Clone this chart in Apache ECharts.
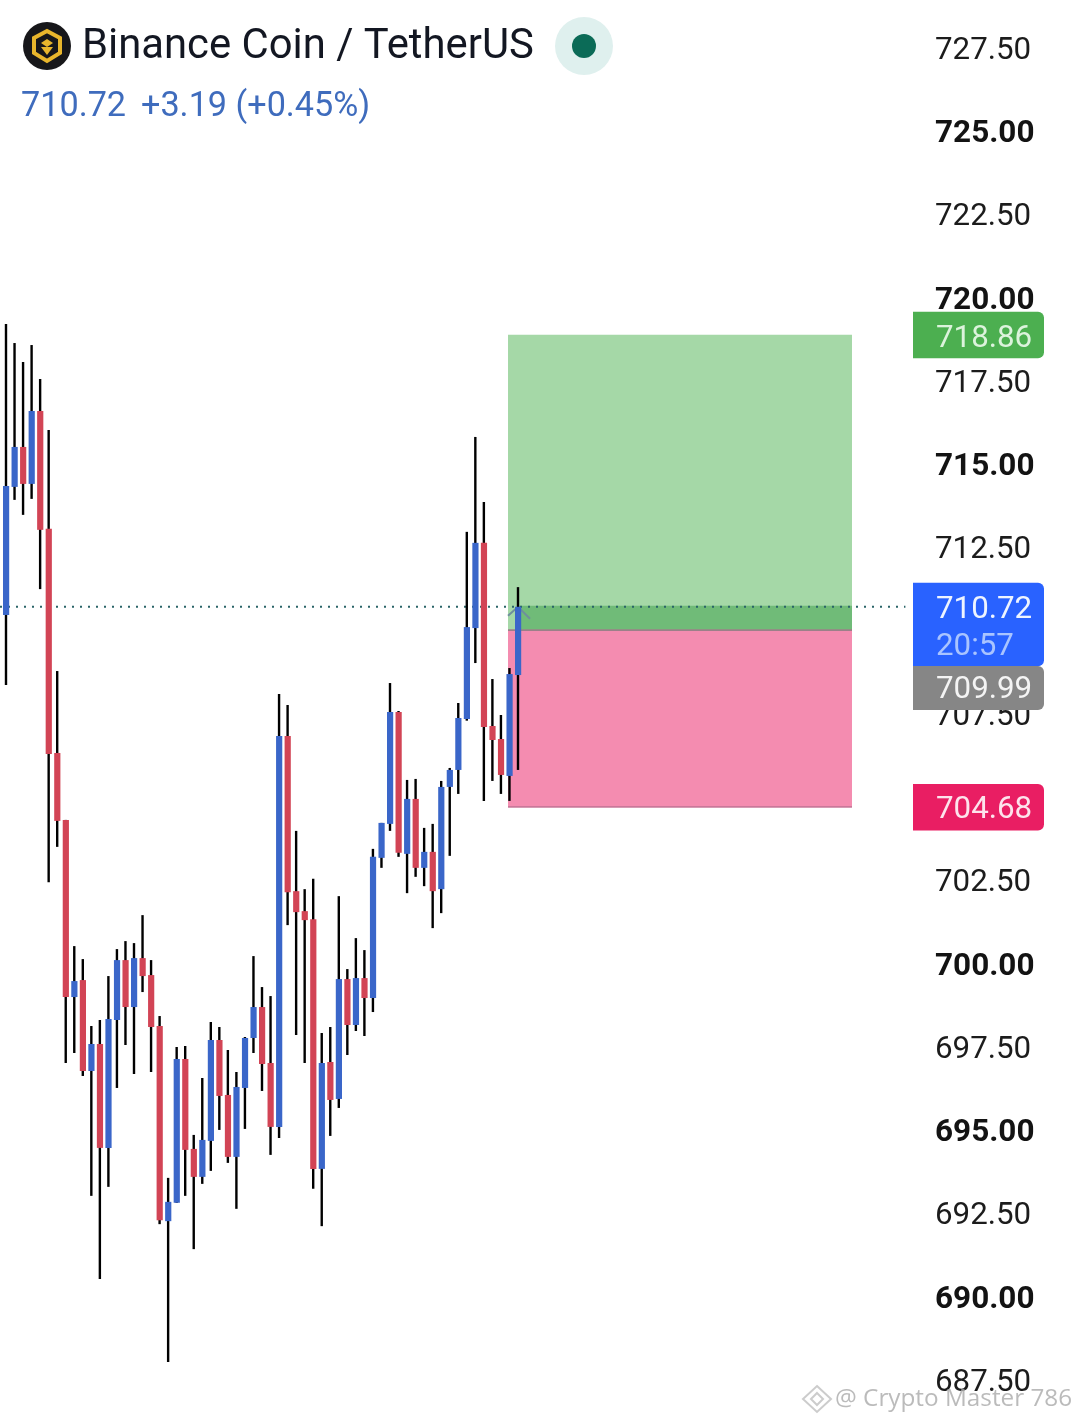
<!DOCTYPE html>
<html>
<head>
<meta charset="utf-8">
<style>html,body{margin:0;padding:0;background:#fff}#c{width:1079px;height:1423px}</style>
<script src="https://cdn.jsdelivr.net/npm/echarts@6/dist/echarts.min.js"></script>
</head>
<body>
<div id="c"></div>
<script>
const opens = [710.47,714.32,715.52,714.41,716.60,713.06,706.33,704.32,699.00,699.51,696.78,697.59,694.47,698.31,700.11,698.70,700.17,699.66,698.13,692.27,692.82,697.14,694.44,693.60,694.68,697.71,696.06,694.20,696.27,697.77,698.70,697.02,695.10,706.84,702.18,701.58,701.34,693.84,697.05,695.94,699.54,698.16,699.57,698.97,703.18,704.20,707.56,703.30,704.95,702.88,703.36,702.24,705.31,705.82,707.35,710.08,712.64,707.14,706.75,705.64,708.67];
const closes = [714.35,715.52,714.41,716.60,713.03,706.30,704.29,699.00,699.48,696.78,697.59,694.47,698.34,700.11,698.70,700.17,699.63,698.10,692.30,692.85,697.14,694.41,693.60,694.71,697.71,696.03,694.20,696.30,697.77,698.70,696.99,695.10,706.84,702.15,701.55,701.31,693.84,697.02,695.91,699.54,698.16,699.57,698.97,703.21,704.23,707.56,703.33,704.95,702.88,703.36,702.18,705.31,705.82,707.38,710.11,712.64,707.11,706.72,705.67,708.70,710.72];
const lows = [708.37,713.93,713.48,713.96,711.25,702.45,703.51,697.02,697.32,696.63,693.03,690.53,693.30,696.27,697.56,696.69,699.15,696.75,692.18,688.04,692.82,693.03,691.43,693.39,693.78,695.01,694.02,692.64,695.04,697.32,696.18,694.26,694.77,701.16,697.86,697.02,693.24,692.12,694.83,695.67,697.26,697.98,697.83,698.55,702.88,703.99,703.21,702.12,702.61,702.33,701.07,701.52,703.24,705.10,707.30,709.03,704.89,705.49,705.10,704.89,705.82];
const highs = [719.21,718.64,718.07,718.58,717.56,716.03,708.79,704.32,700.53,700.14,698.13,698.31,699.63,700.44,700.68,700.62,701.46,700.11,698.43,693.57,697.50,697.53,694.86,696.57,698.25,698.10,697.41,696.75,697.80,700.23,699.30,699.03,708.10,707.77,703.99,702.24,702.55,697.92,698.10,702.03,699.84,700.77,700.41,703.45,704.23,708.43,707.59,705.52,705.55,704.08,704.20,705.49,705.88,707.83,712.97,715.82,713.87,708.55,707.47,708.88,711.31];

const targetPrice = 718.86;
const lastPrice = 710.72;
const entryPrice = 709.99;
const stopPrice = 704.68;
const positionStartBar = 58.83;
const positionEndBar = 99.14;
const lastBar = 60;
const dottedEndBar = 105.4;
const tagPrices = [718.86, 710.72, 709.99, 704.68];
const tagTexts = ['718.86', '710.72', '709.99', '704.68'];
const countdownText = '20:57';
const titleText = 'Binance Coin / TetherUS';
const quoteText = '710.72';
const changeText = '+3.19 (+0.45%)';
const watermarkText = '@ Crypto Master 786';

const BLUE = '#3a66c9', RED = '#d24455', FONT = 'Roboto, "Noto Sans", sans-serif';
const candles = opens.map((o, i) => [i, o, closes[i], lows[i], highs[i]]);

function renderCandle(params, api) {
  const x = api.value(0), o = api.value(1), c = api.value(2), l = api.value(3), h = api.value(4);
  const pH = api.coord([x, h]), pL = api.coord([x, l]);
  const pT = api.coord([x, Math.max(o, c)]), pB = api.coord([x, Math.min(o, c)]);
  return {
    type: 'group',
    children: [
      { type: 'rect', shape: { x: pH[0] - 1.2, y: pH[1], width: 2.4, height: pL[1] - pH[1] }, style: { fill: '#000' } },
      { type: 'rect', shape: { x: pT[0] - 3, y: pT[1], width: 6.2, height: Math.max(1, pB[1] - pT[1]) },
        style: { fill: c > o ? BLUE : RED } }
    ]
  };
}

function renderZones(params, api) {
  const s = positionStartBar, e = positionEndBar, up = 1;
  const tl = api.coord([s, targetPrice]), br = api.coord([e, entryPrice]), sb = api.coord([e, stopPrice]);
  const lb = api.coord([lastBar, lastPrice]);
  const w = br[0] - tl[0];
  return {
    type: 'group',
    children: [
      { type: 'rect', shape: { x: tl[0], y: tl[1] - up, width: w, height: br[1] - tl[1] }, style: { fill: '#a5d8a7' } },
      { type: 'rect', shape: { x: lb[0], y: lb[1] - up, width: br[0] - lb[0], height: br[1] - lb[1] }, style: { fill: '#70bb78' } },
      { type: 'rect', shape: { x: tl[0], y: br[1] - up, width: w, height: sb[1] - br[1] }, style: { fill: '#f48cb0' } },
      { type: 'line', shape: { x1: tl[0], y1: br[1] - up, x2: br[0], y2: br[1] - up }, style: { stroke: '#9c8089', lineWidth: 1.6 } },
      { type: 'line', shape: { x1: tl[0], y1: sb[1] - up, x2: br[0], y2: sb[1] - up }, style: { stroke: '#c9789a', lineWidth: 1.6 } },
      { type: 'polyline', shape: { points: [[lb[0] - 10, lb[1] + 9], [lb[0], lb[1]], [lb[0] + 12, lb[1] + 12]] },
        style: { stroke: '#6f8f9c', lineWidth: 2, fill: 'none' } }
    ]
  };
}

function renderTag(params, api) {
  const i = params.dataIndex;
  const y = api.coord([0, api.value(1)])[1];
  const L = 913, W = 131;
  const font = '31.3px ' + FONT;
  const tx = 936;
  const text = (t, cy, fill) => ({ type: 'text', style: { text: t, x: tx, y: cy, fill, font, textAlign: 'left', textVerticalAlign: 'middle' } });
  if (i === 0) return { type: 'group', children: [
    { type: 'rect', shape: { x: L, y: y - 24, width: W, height: 46.5, r: [0, 6, 6, 0] }, style: { fill: '#4caf50' } },
    text(tagTexts[0], y + 3, '#dcf3dc')] };
  if (i === 1) return { type: 'group', children: [
    { type: 'rect', shape: { x: L, y: y - 24, width: W, height: 83.5, r: [0, 6, 6, 0] }, style: { fill: '#2962ff' } },
    text(tagTexts[1], y + 3, '#eef4ff'), text(countdownText, y + 40, '#a9c4ff')] };
  if (i === 2) return { type: 'group', children: [
    { type: 'rect', shape: { x: L, y: y + 35, width: W, height: 44, r: [0, 6, 6, 0] }, style: { fill: '#868686' } },
    text(tagTexts[2], y + 59.5, '#f4f4f4')] };
  return { type: 'group', children: [
    { type: 'rect', shape: { x: L, y: y - 24, width: W, height: 46.5, r: [0, 6, 6, 0] }, style: { fill: '#e91e63' } },
    text(tagTexts[3], y + 2, '#fde3ec')] };
}

const gold = '#e9b62c';
const iconX = 47, iconY = 46;
const option = {
  backgroundColor: '#fff',
  animation: false,
  grid: { left: 0, right: 159, top: 48, bottom: 43 },
  xAxis: { type: 'value', min: -0.703, max: 107.11, show: false },
  yAxis: {
    type: 'value', position: 'right', min: 687.5, max: 727.5, interval: 2.5,
    splitLine: { show: false }, axisLine: { show: false }, axisTick: { show: false },
    axisLabel: {
      margin: 15, showMinLabel: true, showMaxLabel: true,
      formatter: v => (v % 5 === 0 ? '{b|' + v.toFixed(2) + '}' : '{r|' + v.toFixed(2) + '}'),
      rich: {
        b: { fontSize: 31.5, fontWeight: 'bold', fontFamily: 'Roboto', color: '#131313', padding: [6, 0, 0, 0] },
        r: { fontSize: 31.3, fontWeight: 'normal', fontFamily: 'Roboto', color: '#1c1c1c', padding: [6, 0, 0, 0] }
      }
    }
  },
  graphic: [
    { type: 'circle', shape: { cx: iconX, cy: iconY, r: 24 }, style: { fill: '#17171a' }, z: 5 },
    { type: 'polygon', shape: { points: [[iconX, iconY-15],[iconX+13,iconY-8],[iconX+13,iconY+7],[iconX,iconY+15],[iconX-13,iconY+7],[iconX-13,iconY-8]] },
      style: { fill: 'none', stroke: gold, lineWidth: 4 }, z: 6 },
    { type: 'polygon', shape: { points: [[iconX, iconY-7],[iconX+6,iconY-3],[iconX,iconY+1],[iconX-6,iconY-3]] },
      style: { fill: gold }, z: 6 },
    { type: 'polygon', shape: { points: [[iconX-6,iconY+1],[iconX+6,iconY+1],[iconX,iconY+9]] },
      style: { fill: gold }, z: 6 },
    { type: 'text', style: { text: titleText, x: 82, y: 48, fill: '#131722', font: '41.8px ' + FONT, textVerticalAlign: 'middle' }, z: 5 },
    { type: 'text', style: { text: quoteText, x: 21, y: 107, fill: '#3f6cbd', font: '34.2px ' + FONT, textVerticalAlign: 'middle' }, z: 5 },
    { type: 'text', style: { text: changeText, x: 141, y: 107, fill: '#3f6cbd', font: '34.2px ' + FONT, textVerticalAlign: 'middle' }, z: 5 },
    { type: 'circle', shape: { cx: 584, cy: 46, r: 29 }, style: { fill: '#dff0ee' }, z: 5 },
    { type: 'circle', shape: { cx: 584, cy: 46, r: 12 }, style: { fill: '#0b6b57' }, z: 6 },
    { type: 'polygon', shape: { points: [[817,1386],[831,1399],[817,1412],[803,1399]] }, style: { fill: 'none', stroke: 'rgba(170,170,170,0.6)', lineWidth: 2 }, z: 100 },
    { type: 'polygon', shape: { points: [[817,1393],[823,1399],[817,1405],[811,1399]] }, style: { fill: 'none', stroke: 'rgba(170,170,170,0.6)', lineWidth: 2 }, z: 100 },
    { type: 'text', style: { text: watermarkText, x: 835, y: 1399, fill: 'rgba(170,170,170,0.8)', font: '24.3px "Open Sans", sans-serif', textVerticalAlign: 'middle' }, z: 100 }
  ],
  series: [
    { type: 'custom', z: 2, silent: true, data: [[positionStartBar, targetPrice]], renderItem: renderZones, encode: { x: 0, y: 1 } },
    { type: 'line', z: 3, silent: true, showSymbol: false, data: [[-0.703, lastPrice], [dottedEndBar, lastPrice]],
      lineStyle: { color: '#2a6468', width: 2, type: [2, 6] } },
    { type: 'custom', z: 4, silent: true, data: candles, renderItem: renderCandle, encode: { x: 0, y: [1, 2, 3, 4] } },
    { type: 'custom', z: 10, silent: true, clip: false, data: tagPrices.map((p, i) => [i, p]), renderItem: renderTag, encode: { x: 0, y: 1 } }
  ]
};
echarts.init(document.getElementById('c'), null, { renderer: 'canvas' }).setOption(option);
</script>
</body>
</html>
